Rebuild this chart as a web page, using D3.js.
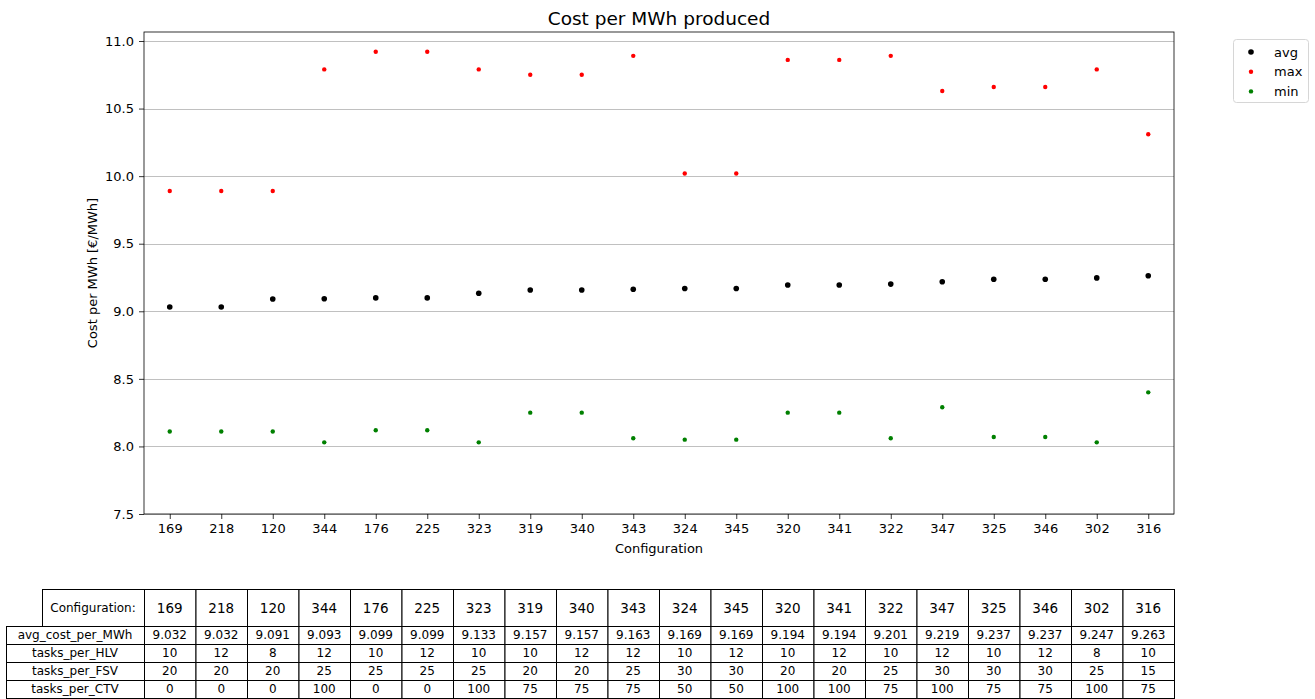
<!DOCTYPE html>
<html>
<head>
<meta charset="utf-8">
<script src="https://cdn.jsdelivr.net/npm/d3@7"></script>
<style>
	body{margin:0;background:#fff;}
	svg text{font-family:"DejaVu Sans",sans-serif;fill:#000;}
</style>
</head>
<body>
<div id="ChartPart"></div>
<script>
//Data------------------------------------------------------------------------------------------------
var Configs = ["169","218","120","344","176","225","323","319","340","343","324","345","320","341","322","347","325","346","302","316"];
var AvgCost = [9.032,9.032,9.091,9.093,9.099,9.099,9.133,9.157,9.157,9.163,9.169,9.169,9.194,9.194,9.201,9.219,9.237,9.237,9.247,9.263];
var MaxCost = [9.89,9.89,9.89,10.79,10.92,10.92,10.79,10.75,10.75,10.89,10.02,10.02,10.86,10.86,10.89,10.63,10.66,10.66,10.79,10.31];
var MinCost = [8.11,8.11,8.11,8.03,8.12,8.12,8.03,8.25,8.25,8.06,8.05,8.05,8.25,8.25,8.06,8.29,8.07,8.07,8.03,8.40];
var TasksHLV = [10,12,8,12,10,12,10,10,12,12,10,12,10,12,10,12,10,12,8,10];
var TasksFSV = [20,20,20,25,25,25,25,20,20,25,30,30,20,20,25,30,30,30,25,15];
var TasksCTV = [0,0,0,100,0,0,100,75,75,75,50,50,100,100,75,100,75,75,100,75];
var YTicks = [7.5,8.0,8.5,9.0,9.5,10.0,10.5,11.0];
var SeriesNames = ["avg","max","min"];
var SeriesColors = ["#000000","#ff0000","#008000"];

var ChartWidth = 1315;
var ChartHeight = 699;
var PlotLeft = 144, PlotRight = 1174, PlotTop = 32, PlotBottom = 514;

var Svg = d3.select("#ChartPart")
	.append("svg")
	.attr("width",ChartWidth)
	.attr("height",ChartHeight);

//Scales----------------------------------------------------------------------------------------------
var XScale = d3.scalePoint()
	.domain(Configs)
	.range([PlotLeft,PlotRight])
	.padding(0.5);

var PxPerUnit = (PlotBottom-41)/3.5;
var YScale = d3.scaleLinear()
	.domain([7.5, 11 + (41-PlotTop)/PxPerUnit])
	.range([PlotBottom,PlotTop]);

//Grid lines------------------------------------------------------------------------------------------
Svg.append("g")
	.selectAll("line")
	.data(YTicks)
	.enter()
	.append("line")
	.attr("x1",PlotLeft)
	.attr("x2",PlotRight)
	.attr("y1",function(d){return Math.round(YScale(d))+0.5;})
	.attr("y2",function(d){return Math.round(YScale(d))+0.5;})
	.style("stroke","#b0b0b0")
	.style("stroke-width",0.8);

//Axes------------------------------------------------------------------------------------------------
var XAxis = Svg.append("g")
	.attr("transform","translate(0,"+PlotBottom+")")
	.call(d3.axisBottom(XScale).tickSize(5).tickPadding(5));

var YAxis = Svg.append("g")
	.attr("transform","translate("+PlotLeft+",0)")
	.call(d3.axisLeft(YScale).tickValues(YTicks).tickFormat(d3.format(".1f")).tickSize(5).tickPadding(5));

[XAxis,YAxis].forEach(function(A){
	A.select(".domain").remove();
	A.selectAll("line").style("stroke","#000").style("stroke-width",0.8);
	A.selectAll("text").style("font-size","13px").style("font-family","DejaVu Sans");
});

Svg.append("rect")
	.attr("x",PlotLeft)
	.attr("y",PlotTop)
	.attr("width",PlotRight-PlotLeft)
	.attr("height",PlotBottom-PlotTop)
	.style("fill","none")
	.style("stroke","#000")
	.style("stroke-width",0.8);

//Points----------------------------------------------------------------------------------------------
var AllSeries = [MinCost,MaxCost,AvgCost];
var AllColors = [SeriesColors[2],SeriesColors[1],SeriesColors[0]];
var AllRadius = [2.2,2.2,2.8];
for(var s=0;s<AllSeries.length;s++)
	{
		Svg.append("g")
		.selectAll("circle")
		.data(AllSeries[s])
		.enter()
		.append("circle")
		.attr("cx",function(d,i){return XScale(Configs[i]);})
		.attr("cy",function(d){return YScale(d);})
		.attr("r",AllRadius[s])
		.style("fill",AllColors[s]);
	}

//Titles----------------------------------------------------------------------------------------------
Svg.append("text")
	.attr("x",(PlotLeft+PlotRight)/2)
	.attr("y",25)
	.attr("text-anchor","middle")
	.style("font-size","18.5px")
	.text("Cost per MWh produced");

Svg.append("text")
	.attr("x",(PlotLeft+PlotRight)/2)
	.attr("y",553)
	.attr("text-anchor","middle")
	.style("font-size","13px")
	.text("Configuration");

Svg.append("text")
	.attr("transform","translate(97,"+((PlotTop+PlotBottom)/2)+") rotate(-90)")
	.attr("text-anchor","middle")
	.style("font-size","13px")
	.text("Cost per MWh [€/MWh]");

//Legend----------------------------------------------------------------------------------------------
var Legend = Svg.append("g");
Legend.append("rect")
	.attr("x",1233.5)
	.attr("y",39.5)
	.attr("width",75)
	.attr("height",63)
	.attr("rx",3)
	.style("fill","#fff")
	.style("stroke","#d6d6d6")
	.style("stroke-width",1);

Legend.selectAll("circle")
	.data(SeriesNames)
	.enter()
	.append("circle")
	.attr("cx",1251)
	.attr("cy",function(d,i){return 52+i*19.7;})
	.attr("r",function(d,i){return i==0?2.8:2.2;})
	.style("fill",function(d,i){return SeriesColors[i];});

Legend.selectAll("text")
	.data(SeriesNames)
	.enter()
	.append("text")
	.attr("x",1274)
	.attr("y",function(d,i){return 56.5+i*19.7;})
	.style("font-size","13px")
	.text(function(d){return d;});

//Table-----------------------------------------------------------------------------------------------
var Step = XScale.step();
var TableLeft = 6, LabelRight = PlotLeft, HeadLeft = 42;
var HeadTop = 589, HeadBottom = 626, RowHeight = 18;
var RowLabels = ["avg_cost_per_MWh","tasks_per_HLV","tasks_per_FSV","tasks_per_CTV"];
var RowValues = [AvgCost.map(function(v){return d3.format(".3f")(v);}),TasksHLV,TasksFSV,TasksCTV];

var Table = Svg.append("g");

function CellRect(x,y,w,h)
{
	Table.append("rect")
	.attr("x",x+0.5)
	.attr("y",y+0.5)
	.attr("width",w)
	.attr("height",h)
	.style("fill","#fff")
	.style("stroke","#000")
	.style("stroke-width",1);
}

function CellText(x,y,txt,size)
{
	Table.append("text")
	.attr("x",x)
	.attr("y",y)
	.attr("text-anchor","middle")
	.attr("dominant-baseline","central")
	.style("font-size",size)
	.text(txt);
}

//header row
CellRect(HeadLeft,HeadTop,LabelRight-HeadLeft,HeadBottom-HeadTop);
CellText((HeadLeft+LabelRight)/2,(HeadTop+HeadBottom)/2,"Configuration:","12px");
Configs.forEach(function(c){
	CellRect(XScale(c)-Step/2,HeadTop,Step,HeadBottom-HeadTop);
	CellText(XScale(c),(HeadTop+HeadBottom)/2,c,"13.5px");
});

//body rows
for(var r=0;r<RowLabels.length;r++)
	{
		var RowTop = HeadBottom + r*RowHeight;
		CellRect(TableLeft,RowTop,LabelRight-TableLeft,RowHeight);
		CellText((TableLeft+LabelRight)/2,RowTop+RowHeight/2,RowLabels[r],"12px");
		for(var i=0;i<Configs.length;i++)
			{
				CellRect(XScale(Configs[i])-Step/2,RowTop,Step,RowHeight);
				CellText(XScale(Configs[i]),RowTop+RowHeight/2,RowValues[r][i],"12px");
			}
	}
</script>
</body>
</html>
